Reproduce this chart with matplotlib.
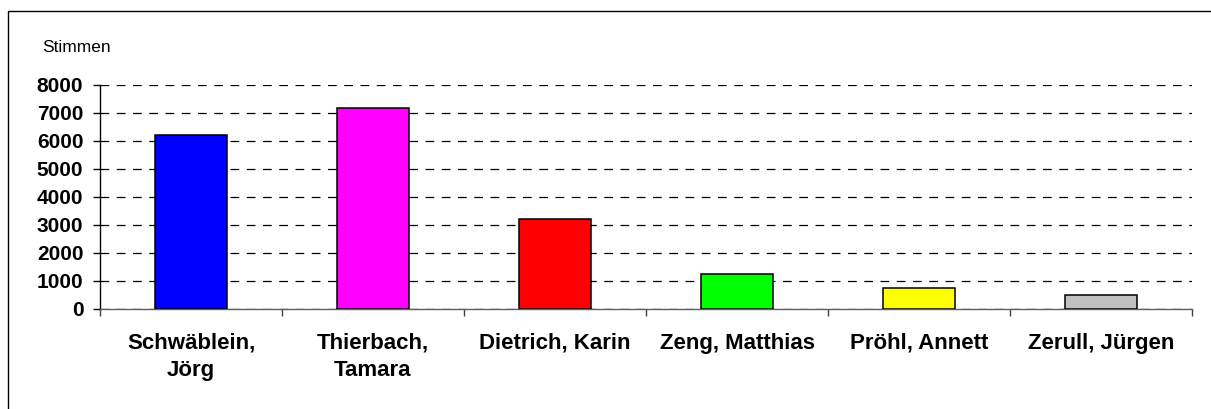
import matplotlib
matplotlib.use("Agg")
import matplotlib.pyplot as plt
from matplotlib.patches import Rectangle

categories = ["Schwäblein,\nJörg", "Thierbach,\nTamara", "Dietrich, Karin",
              "Zeng, Matthias", "Pröhl, Annett", "Zerull, Jürgen"]
votes = [6210, 7170, 3210, 1240, 750, 510]
bar_colors = ["#0000FF", "#FF00FF", "#FF0000", "#00FF00", "#FFFF00", "#C0C0C0"]
y_ticks = [0, 1000, 2000, 3000, 4000, 5000, 6000, 7000, 8000]

plt.rcParams['font.family'] = ['Liberation Sans', 'DejaVu Sans']

W, H = 1211, 409
fig = plt.figure(figsize=(W / 100, H / 100), dpi=100)

# outer frame (extends beyond right/bottom edges)
frame = Rectangle((8 / W, -0.1), 1.2, 1 - 11 / H + 0.1, transform=fig.transFigure,
                  fill=False, edgecolor="black", linewidth=1.0)
fig.add_artist(frame)

ax = fig.add_axes([100 / W, 1 - 309 / H, (1192 - 100) / W, (309 - 85) / H])
x = list(range(len(categories)))
ax.bar(x, votes, width=0.4, color=bar_colors, edgecolor="black", linewidth=1.1, zorder=3)

ax.set_xlim(-0.5, len(categories) - 0.5)
ax.set_ylim(0, 8000)
ax.set_yticks(y_ticks)
ax.set_yticklabels([str(v) for v in y_ticks], fontsize=15, fontweight="bold")
ax.yaxis.grid(True, color="black", linestyle=(0, (7, 6)), linewidth=0.9, zorder=0)
ax.set_axisbelow(True)

# category labels at centers, ticks at boundaries
ax.set_xticks([i - 0.5 for i in range(len(categories) + 1)])
ax.set_xticklabels([])
ax.set_xticks(x, minor=True)
ax.set_xticklabels(categories, minor=True, fontsize=16, fontweight="bold",
                   linespacing=1.4, va="top")
ax.tick_params(axis="x", which="minor", length=0, pad=17)
ax.tick_params(axis="x", which="major", length=5, width=1, color="#404040", direction="out")
ax.tick_params(axis="y", length=5, width=1, direction="out", pad=7)

for s in ["top", "right"]:
    ax.spines[s].set_visible(False)
ax.spines["left"].set_color("black")
ax.spines["left"].set_linewidth(1)
ax.spines["bottom"].set_color("#606060")
ax.spines["bottom"].set_linewidth(1)

fig.text(42 / W, 1 - 52 / H, "Stimmen", fontsize=12.5, ha="left", va="baseline")

fig.savefig("out.png", dpi=100)
